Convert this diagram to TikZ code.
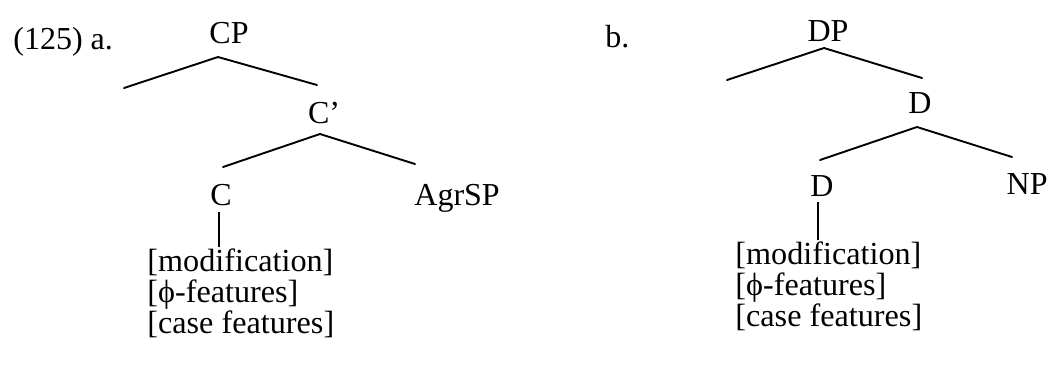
\documentclass[tikz,border=0pt]{standalone}
\usepackage{fontspec}
\setmainfont{Liberation Serif}
\usetikzlibrary{positioning}

\begin{document}
\begin{tikzpicture}[
  x=0.5pt, y=-0.5pt,
  cat/.style={inner sep=0pt, anchor=base, font=\fontsize{16}{15}\selectfont},
  feat/.style={inner sep=0pt, anchor=base west, font=\fontsize{16.1}{15}\selectfont},
  branch/.style={line width=0.95pt, line cap=round},
  stem/.style={line width=0.8pt},
]
\useasboundingbox (0,0) rectangle (1049,365);

% === (125a): CP tree ===
\node[cat, anchor=base west] (exa) at (13,49) {(125) a.};
\node[cat] (cp) at (229,43) {CP};
\node[cat] (cbar) at (324,123) {C'};
\node[cat] (c) at (221,205) {C};
\node[cat, anchor=base west] (agrsp) at (414,205) {AgrSP};

\coordinate (cpTop) at (218,57);
\coordinate (cpSpec) at (124,88);
\coordinate (cpComp) at (317,85);
\coordinate (cbarTop) at (320,134);
\coordinate (cbarHead) at (223,167);
\coordinate (cbarComp) at (415,164);

\draw[branch] (cpSpec) -- (cpTop) -- (cpComp);
\draw[branch] (cbarHead) -- (cbarTop) -- (cbarComp);

\node[feat] (fa1) at (147,271) {[modification]};
\node[feat] (fa2) at (147,302) {[ϕ-features]};
\node[feat] (fa3) at (147,333) {[case features]};
\draw[stem] ([xshift=-1pt,yshift=-3.5pt]c.base) -- ([xshift=-1pt,yshift=-21pt]c.base);

% === (125b): DP tree ===
\node[cat, anchor=base west] (exb) at (605,47) {b.};
\node[cat] (dp) at (828,41) {DP};
\node[cat] (dbar) at (920,113) {D};
\node[cat] (d) at (822,196) {D};
\node[cat, anchor=base east] (np) at (1048,194) {NP};

\coordinate (dpTop) at (824,48);
\coordinate (dpSpec) at (727,80);
\coordinate (dpComp) at (922,78);
\coordinate (dbarTop) at (917,127);
\coordinate (dbarHead) at (820,160);
\coordinate (dbarComp) at (1012,157);

\draw[branch] (dpSpec) -- (dpTop) -- (dpComp);
\draw[branch] (dbarHead) -- (dbarTop) -- (dbarComp);

\node[feat] (fb1) at (735,264) {[modification]};
\node[feat] (fb2) at (735,295) {[ϕ-features]};
\node[feat] (fb3) at (735,326) {[case features]};
\draw[stem] ([xshift=-2pt,yshift=-3pt]d.base) -- ([xshift=-2pt,yshift=-22pt]d.base);

\end{tikzpicture}
\end{document}
